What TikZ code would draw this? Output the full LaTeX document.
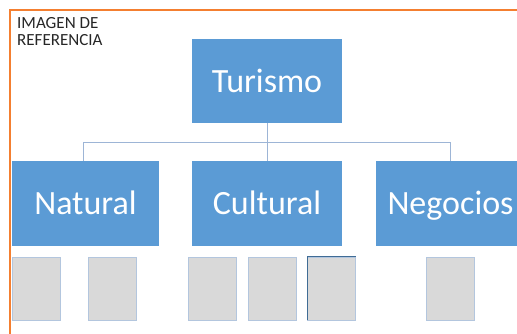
\documentclass[tikz,border=0pt]{standalone}
\usepackage{fontspec}
\setmainfont{Carlito}
\usepackage{xcolor}
\definecolor{azul}{HTML}{5B9BD5}
\definecolor{linea}{HTML}{9DB5D6}
\definecolor{gris}{HTML}{D9D9D9}
\definecolor{grisborde}{HTML}{B3C6DE}
\definecolor{naranja}{HTML}{F47F30}
\usetikzlibrary{positioning}
\tikzset{
	caja/.style={rectangle, fill=azul, text=white, minimum width=150pt, minimum height=85pt, inner sep=0, text height=23pt, text depth=0pt, font=\fontsize{34}{40}\selectfont},
	hueco/.style={rectangle, fill=gris, draw=grisborde, line width=0.8pt, minimum width=48pt, minimum height=63pt, inner sep=0},
	conector/.style={draw=linea, line width=0.9pt}
}
\begin{document}
\begin{tikzpicture}[node distance=122.5pt]
		\useasboundingbox (0,0) rectangle (517pt,334pt);
		\clip (0,0) rectangle (517pt,334pt);
		% marco
		\draw[naranja, line width=1.2pt] (10pt,0) -- (10pt,324pt) -- (517pt,324pt);
		\node[anchor=north west, inner sep=0, align=left, text=black!85, font=\fontsize{17}{17}\selectfont] (titulo) at (17pt,317pt) {IMAGEN DE\\REFERENCIA};
		
		% nodes
		\node[caja, minimum height=84pt] (turismo) at (267pt,253pt) {Turismo};
		\node[caja, below of = turismo] (cultural) {Cultural};
		\node[caja, left of = cultural, node distance = 181.5pt, minimum width=147pt] (natural) {Natural};
		\node[caja, right of = cultural, node distance = 183.5pt] (negocios) {Negocios};
		
		\node[hueco, below of = natural, node distance = 85pt, xshift = -49.5pt] (natural1) {};
		\node[hueco, below of = natural, node distance = 85pt, xshift = 27pt] (natural2) {};
		\node[hueco, below of = cultural, node distance = 85pt, xshift = -55pt] (cultural1) {};
		\node[hueco, below of = cultural, node distance = 85pt, xshift = 5.5pt] (cultural2) {};
		\node[hueco, below of = cultural, node distance = 85pt, xshift = 64.5pt] (cultural3) {};
		\node[hueco, below of = negocios, node distance = 85pt] (negocios1) {};
		\draw[color=azul!70!black, line width=1.2pt] (cultural3.south west) -- (cultural3.north west) -- (cultural3.north east);
		
		% conectores
		\coordinate[below = 19.7pt of turismo.south] (bus);
		\draw[conector] (turismo.south) -- (bus);
		\draw[conector] (bus) -| ([xshift=-2.5pt]natural.north);
		\draw[conector] (bus) -| (negocios.north);
		\draw[conector] (bus) -- (cultural.north);
\end{tikzpicture}
\end{document}
